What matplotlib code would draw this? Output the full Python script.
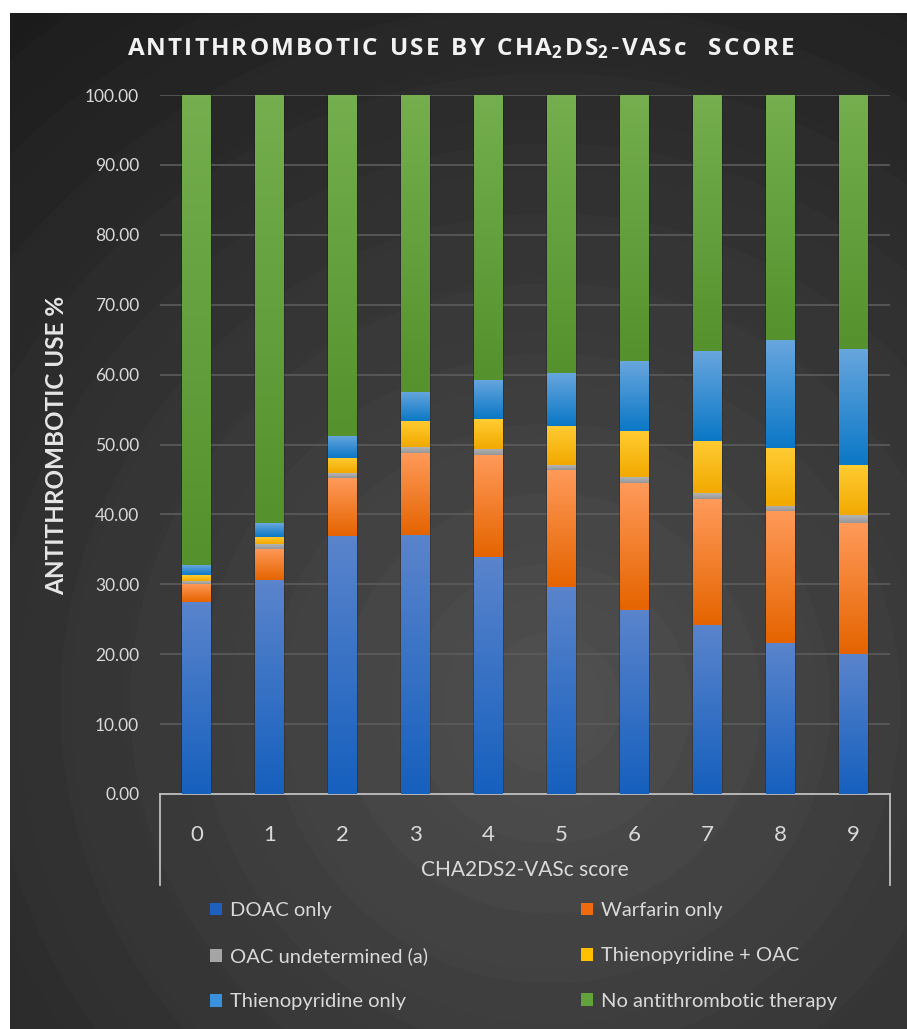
#!/usr/bin/env python3

import matplotlib.pyplot as plt
import matplotlib.colors as mcolors
import numpy as np

scores = ["0", "1", "2", "3", "4", "5", "6", "7", "8", "9"]
doac = [27.4, 30.6, 36.9, 37.05, 33.9, 29.6, 26.3, 24.2, 21.6, 20.0]
warfarin = [2.7, 4.5, 8.26, 11.8, 14.6, 16.8, 18.2, 18.0, 18.9, 18.8]
oac_undet = [0.4, 0.6, 0.7, 0.76, 0.9, 0.7, 0.8, 0.8, 0.76, 1.1]
thieno_oac = [0.8, 1.1, 2.2, 3.76, 4.2, 5.6, 6.6, 7.5, 8.25, 7.1]
thieno_only = [1.4, 1.9, 3.2, 4.15, 5.6, 7.6, 10.0, 12.9, 15.45, 16.6]
no_anti = [100 - (a + b + c + d + e) for a, b, c, d, e in
           zip(doac, warfarin, oac_undet, thieno_oac, thieno_only)]

series = [doac, warfarin, oac_undet, thieno_oac, thieno_only, no_anti]
labels = ["DOAC only", "Warfarin only", "OAC undetermined (a)",
          "Thienopyridine + OAC", "Thienopyridine only",
          "No antithrombotic therapy"]
# top / bottom colour of each segment gradient
tops = ["#5a84cc", "#ff9a5a", "#b4b4b4", "#ffcc33", "#68a6de", "#74ae4e"]
bottoms = ["#1660be", "#e56400", "#979797", "#f2a900", "#0b78c6", "#55922d"]
legend_colors = ["#1e5fbf", "#f06a10", "#a5a5a5", "#ffc000", "#3a92dc", "#62a23c"]


def spaced_title(parts, gap=0.09):
    # parts: list of (text, is_subscript); builds letter-spaced mathtext
    toks = []
    for txt, sub in parts:
        for ch in txt:
            if sub:
                toks[-1] = toks[-1] + "_{" + ch + "}"
                continue
            if ch == " ":
                toks.append(r"\ ")
            elif ch == "-":
                toks.append(r"\text{-}")
            else:
                toks.append(ch)
    return "$" + (r"\hspace{%g}" % gap).join(toks) + "$"


def main():
    plt.rcParams['font.family'] = ['Lato', 'DejaVu Sans']
    plt.rcParams['mathtext.default'] = 'regular'
    W, H = 907, 1029
    fig = plt.figure(figsize=(W / 100, H / 100), dpi=100, facecolor="white")

    # dark panel with radial rings
    bg = fig.add_axes([10 / W, 0, (W - 10) / W, (H - 13) / H])
    bg.set_axis_off()
    yy, xx = np.mgrid[0:H - 13, 0:W - 10]
    r = np.hypot(xx - 540, yy - 690)
    v = 80 - 54 * (r / r.max()) + 3.0 * ((r % 70) / 70)
    v = np.clip(v, 0, 255) / 255
    bg.imshow(np.dstack([v, v, v]), aspect="auto", extent=[0, 1, 0, 1])
    bg.set_xlim(0, 1)
    bg.set_ylim(0, 1)

    ax = fig.add_axes([160 / W, 235 / H, 730 / W, 699 / H])
    ax.set_facecolor("none")
    x = np.arange(len(scores))
    width = 0.385

    # soft shadow behind bars
    ax.bar(x, [100] * len(x), width=width + 0.05, color="black", alpha=0.18, zorder=1)

    bottom = np.zeros(len(x))
    handles = []
    for vals, lab, ct, cb, lc in zip(series, labels, tops, bottoms, legend_colors):
        bars = ax.bar(x, vals, width=width, bottom=bottom, color=lc, zorder=2,
                      label=lab, linewidth=0)
        handles.append(bars)
        c0 = np.array(mcolors.to_rgb(ct))
        c1 = np.array(mcolors.to_rgb(cb))
        t = np.linspace(0, 1, 64)[:, None]
        grad = (c0 * (1 - t) + c1 * t)[:, None, :]
        for p in bars.patches:
            im = ax.imshow(grad, aspect="auto", zorder=3,
                           extent=[p.get_x(), p.get_x() + p.get_width(),
                                   p.get_y(), p.get_y() + p.get_height()])
            im.set_clip_path(p)
        bottom += np.array(vals)

    ax.set_xlim(-0.5, 9.5)
    ax.set_ylim(0, 100)
    ax.set_yticks(np.arange(0, 101, 10))
    ax.set_yticklabels([f"{t:.2f}" for t in np.arange(0, 101, 10)])
    ax.set_xticks(x)
    ax.set_xticklabels(scores)
    ax.grid(axis="y", color="#5c5c5c", linewidth=1.2, zorder=0)
    ax.set_axisbelow(True)
    for s in ["top", "right", "left"]:
        ax.spines[s].set_visible(False)
    ax.spines["bottom"].set_color("#bfbfbf")
    ax.spines["bottom"].set_linewidth(1.3)
    ax.tick_params(axis="y", length=0, pad=15, labelsize=12.5, labelcolor="#d9d9d9")
    ax.tick_params(axis="x", length=0, pad=22, labelsize=16, labelcolor="#d9d9d9")

    # category box lines below axis
    drop = (885 - 794) / 699
    for xa in [0, 1]:
        ax.plot([xa, xa], [0, -drop], transform=ax.transAxes, clip_on=False,
                color="#bfbfbf", linewidth=1.3)

    ax.text(0.5, -(870 - 794) / 699, "CHA2DS2-VASc score", transform=ax.transAxes,
            ha="center", va="center", fontsize=15, color="#d9d9d9")

    fig.text(57 / W, 1 - 445 / H, "ANTITHROMBOTIC USE %", rotation=90,
             ha="center", va="center", fontsize=17.5, fontweight="bold", color="#e6e6e6")

    title = spaced_title([("ANTITHROMBOTIC USE BY CHA", False), ("2", True),
                          ("DS", False), ("2", True), ("-VASc  SCORE", False)])
    fig.text(461 / W, 1 - 49 / H, title,
             ha="center", va="center", fontsize=17.5, fontweight="bold", color="#f2f2f2",
             family=["Open Sans", "DejaVu Sans"])

    order = [0, 2, 4, 1, 3, 5]
    leg = fig.legend([handles[i] for i in order], [labels[i] for i in order],
                     ncol=2, loc="upper left", bbox_to_anchor=(192 / W, 1 - 884 / H),
                     frameon=False, fontsize=14.5, labelcolor="#d9d9d9",
                     handlelength=0.6, handleheight=0.6, handletextpad=0.4,
                     labelspacing=1.4, columnspacing=7.6)
    for h, i in zip(leg.legend_handles, order):
        h.set_color(legend_colors[i])

    fig.savefig("out.png", dpi=100)


if __name__ == "__main__":
    main()
